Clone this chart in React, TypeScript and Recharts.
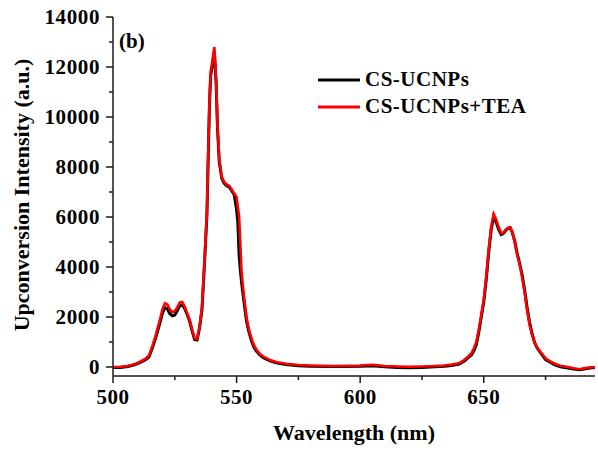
import React from "react";
import { LineChart, Line, XAxis, YAxis } from "recharts";

const wavelengths = [
  500, 503, 506, 509, 511, 513, 514.5, 516, 517.5, 519, 520, 521, 522, 523, 524, 525, 526, 527, 528, 529,
  530, 531, 532, 533, 534, 535, 536, 537, 538, 539, 539.5, 540, 541, 541.7, 542.3, 543, 544, 545, 546, 547,
  548, 549, 550, 550.5, 551, 551.5, 552, 553, 554, 555, 556, 557, 558, 559.5, 561, 563.5, 566, 570, 575, 580,
  590, 600, 605, 610, 615, 620, 625, 630, 634, 637, 640, 642, 643.5, 645, 646, 647, 648, 649, 650, 651,
  652, 653, 654, 655, 656, 657, 658, 659, 660, 660.7, 661.5, 662.5, 663.5, 664.5, 665.5, 666.5, 667.5, 668.5, 669.5, 670.5,
  671.5, 673, 675, 677, 679, 681, 684, 687, 689, 691, 693, 695,
];

const csUcnps = [
  -20, -20, 20, 100, 180, 280, 400, 780, 1250, 1780, 2150, 2380, 2330, 2130, 2050, 2080, 2250, 2450, 2480, 2330,
  2100, 1830, 1450, 1100, 1080, 1550, 2300, 4100, 6100, 10400, 11650, 11950, 12620, 11400, 9500, 8200, 7550, 7350, 7250, 7200,
  7050, 6900, 6300, 5800, 4500, 3900, 3400, 2600, 1850, 1400, 1050, 800, 640, 470, 360, 250, 170, 100, 50, 30,
  20, 30, 50, 10, -20, -30, -20, 10, 30, 60, 120, 230, 360, 480, 650, 900, 1400, 2000, 2600, 3500,
  4600, 5500, 6000, 5800, 5500, 5300, 5350, 5480, 5550, 5560, 5400, 5050, 4550, 4150, 3700, 3100, 2400, 1800, 1350, 1000,
  780, 560, 300, 180, 80, 10, -40, -90, -110, -70, -40, -20,
];

const csUcnpsTea = [
  0, 10, 40, 120, 210, 320, 450, 850, 1350, 1900, 2300, 2550, 2500, 2300, 2200, 2230, 2380, 2580, 2600, 2420,
  2150, 1880, 1500, 1150, 1130, 1600, 2400, 4200, 6200, 10500, 11800, 12100, 12800, 11500, 9600, 8300, 7600, 7400, 7300, 7250,
  7100, 6950, 6800, 6400, 6050, 5000, 3800, 2800, 2000, 1500, 1150, 880, 700, 520, 400, 280, 200, 130, 80, 60,
  40, 60, 90, 40, 20, 10, 20, 40, 60, 100, 150, 280, 400, 550, 750, 1000, 1500, 2100, 2700, 3600,
  4700, 5600, 6120, 5900, 5600, 5350, 5380, 5500, 5580, 5590, 5400, 5000, 4500, 4100, 3600, 3000, 2300, 1700, 1300, 1000,
  800, 600, 350, 220, 120, 50, 0, -60, -90, -40, -20, -10,
];

const xTicks = [500, 525, 550, 575, 600, 625, 650, 675];
const xTickLabels = [500, 550, 600, 650];
const yTicks = [0, 1000, 2000, 3000, 4000, 5000, 6000, 7000, 8000, 9000, 10000, 11000, 12000, 13000, 14000];
const yTickLabels = [0, 2000, 4000, 6000, 8000, 10000, 12000, 14000];

const seriesNames = ["CS-UCNPs", "CS-UCNPs+TEA"];
const xTitle = "Wavelength (nm)";
const yTitle = "Upconversion Intensity (a.u.)";
const panelLabel = "(b)";

const data = wavelengths.map((w, i) => ({ w, a: csUcnps[i], b: csUcnpsTea[i] }));

const FONT = "'Liberation Serif', 'Times New Roman', serif";
const AXIS = "#1a1a1a";

const XTick = (props: any) => {
  const { x, y, payload } = props;
  const major = xTickLabels.includes(payload.value);
  return (
    <g>
      <line x1={x} x2={x} y1={y} y2={y + (major ? 7 : 4)} stroke={AXIS} strokeWidth={1.5} />
      {major && (
        <text x={x} y={y + 28} textAnchor="middle" fontFamily={FONT} fontWeight="bold" fontSize={21} letterSpacing={0.5} fill="#000">
          {payload.value}
        </text>
      )}
    </g>
  );
};

const YTick = (props: any) => {
  const { x, y, payload } = props;
  const major = yTickLabels.includes(payload.value);
  return (
    <g>
      <line x1={x} x2={x - (major ? 7 : 4)} y1={y} y2={y} stroke={AXIS} strokeWidth={1.5} />
      {major && (
        <text x={x - 13} y={y + 7} textAnchor="end" fontFamily={FONT} fontWeight="bold" fontSize={21} letterSpacing={0.6} fill="#000">
          {payload.value}
        </text>
      )}
    </g>
  );
};

export default function App() {
  return (
    <div style={{ position: "absolute", left: 0, top: 0, width: 598, height: 453, background: "#fff" }}>
      <LineChart width={598} height={453} data={data} margin={{ top: 17, right: 3, bottom: 0, left: 0 }}>
        <XAxis
          dataKey="w"
          type="number"
          domain={[500, 695]}
          ticks={xTicks}
          interval={0}
          allowDataOverflow
          height={77}
          tickSize={0}
          tickMargin={0}
          tickLine={false}
          tick={<XTick />}
          axisLine={{ stroke: AXIS, strokeWidth: 1.5 }}
        />
        <XAxis
          xAxisId="top"
          orientation="top"
          dataKey="w"
          type="number"
          domain={[500, 695]}
          height={0}
          tick={false}
          tickLine={false}
          axisLine={{ stroke: AXIS, strokeWidth: 1.5 }}
        />
        <YAxis
          type="number"
          domain={[-360, 14000]}
          ticks={yTicks}
          interval={0}
          allowDataOverflow
          width={113}
          tickSize={0}
          tickMargin={0}
          tickLine={false}
          tick={<YTick />}
          axisLine={{ stroke: AXIS, strokeWidth: 1.5 }}
        />
        <YAxis
          yAxisId="right"
          orientation="right"
          domain={[-360, 14000]}
          width={0}
          tick={false}
          tickLine={false}
          axisLine={{ stroke: AXIS, strokeWidth: 1.5 }}
        />
        <Line
          type="linear"
          dataKey="a"
          name={seriesNames[0]}
          stroke="#000000"
          strokeWidth={3}
          dot={false}
          isAnimationActive={false}
        />
        <Line
          type="linear"
          dataKey="b"
          name={seriesNames[1]}
          stroke="#ff0000"
          strokeWidth={2.6}
          dot={false}
          isAnimationActive={false}
        />
      </LineChart>
      <svg
        width={598}
        height={453}
        style={{ position: "absolute", left: 0, top: 0, pointerEvents: "none" }}
      >
        <text x={119} y={48} fontFamily={FONT} fontWeight="bold" fontSize={21} fill="#000">
          {panelLabel}
        </text>
        <line x1={318} x2={360} y1={80} y2={80} stroke="#000" strokeWidth={3} />
        <text x={365} y={86} fontFamily={FONT} fontWeight="bold" fontSize={21} letterSpacing={0.5} fill="#000">
          {seriesNames[0]}
        </text>
        <line x1={318} x2={360} y1={107} y2={107} stroke="#ff0000" strokeWidth={3} />
        <text x={365} y={113} fontFamily={FONT} fontWeight="bold" fontSize={21} letterSpacing={0.5} fill="#000">
          {seriesNames[1]}
        </text>
        <text x={354} y={440} textAnchor="middle" fontFamily={FONT} fontWeight="bold" fontSize={22} fill="#000">
          {xTitle}
        </text>
        <text
          transform="translate(29,195) rotate(-90)"
          x={0}
          y={0}
          textAnchor="middle"
          fontFamily={FONT}
          fontWeight="bold"
          fontSize={22}
          fill="#000"
        >
          {yTitle}
        </text>
      </svg>
    </div>
  );
}
